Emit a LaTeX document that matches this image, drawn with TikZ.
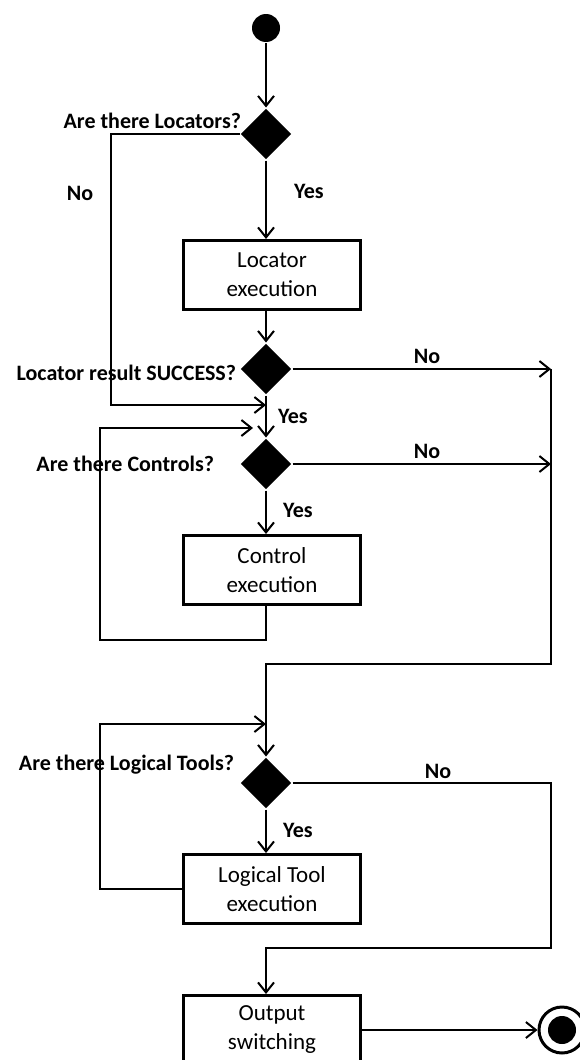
\documentclass[tikz,border=0pt]{standalone}
\usepackage{fontspec}
\setmainfont{Carlito}
\usetikzlibrary{shapes.geometric,arrows.meta}
\begin{document}
\begin{tikzpicture}[x=1pt,y=-1pt,
  line width=2pt,
  arr/.style={-{Straight Barb[length=10pt,width=16pt]}},
  dec/.style={diamond,fill=black,inner sep=0pt,minimum width=51pt,minimum height=51pt},
  act/.style={draw,line width=3pt,minimum width=177pt,minimum height=69pt,inner sep=0pt,align=center,font=\fontsize{23}{29}\selectfont},
  lbl/.style={font=\fontsize{22}{24}\selectfont\bfseries,inner sep=0pt}
]
\clip (0,0) rectangle (580,1060);
% nodes
\node[circle,fill=black,inner sep=0pt,minimum size=28pt] (start) at (266,28) {};
\node[dec] (d1) at (266,134) {};
\node[act] (b1) at (272,275) {Locator\\execution};
\node[dec] (d2) at (266,369) {};
\node[dec] (d3) at (266,464) {};
\node[act] (b2) at (272,570) {Control\\execution};
\node[dec] (d4) at (266,783) {};
\node[act] (b3) at (272,889) {Logical Tool\\execution};
\node[act] (b4) at (272,1030) {Output\\switching};
\node[circle,draw=black,line width=3pt,inner sep=0pt,minimum size=46pt] (end) at (562,1030) {};
\node[circle,fill=black,inner sep=0pt,minimum size=28pt] (endin) at (end) {};
% labels
\node[lbl,anchor=base east] (q1) at (242,128) {Are there Locators?};
\node[lbl,anchor=base east] (q2) at (237,380) {Locator result SUCCESS?};
\node[lbl,anchor=base east] (q3) at (215,471) {Are there Controls?};
\node[lbl,anchor=base east] (q4) at (235,770) {Are there Logical Tools?};
\node[lbl,anchor=base] (y1) at (309,198) {Yes};
\node[lbl,anchor=base] (y2) at (293,423) {Yes};
\node[lbl,anchor=base] (y3) at (298,517) {Yes};
\node[lbl,anchor=base] (y4) at (298,837) {Yes};
\node[lbl,anchor=base] (n0) at (80,200) {No};
\node[lbl,anchor=base] (n1) at (427,363) {No};
\node[lbl,anchor=base] (n2) at (427,458) {No};
\node[lbl,anchor=base] (n3) at (438,778) {No};
% bend points
\coordinate (a1) at (111,134);
\coordinate (a2) at (111,405);
\coordinate (a3) at (266,405);
\coordinate (c1) at (266,640);
\coordinate (c2) at (100,640);
\coordinate (c3) at (100,428);
\coordinate (c4) at (253,428);
\coordinate (r1) at (551,369);
\coordinate (r2) at (551,464);
\coordinate (r3) at (551,664);
\coordinate (r4) at (266,664);
\coordinate (g1) at (100,889);
\coordinate (g2) at (100,724);
\coordinate (g3) at (266,724);
\coordinate (r5) at (551,783);
\coordinate (r6) at (551,948);
\coordinate (r7) at (266,948);
% connectors
\draw[arr] (start) -- (d1);
\draw[arr] (d1) -- (d1.south |- b1.north);
\draw[arr] (b1.south -| d1.center) -- (d2);
\draw[arr] (d1.west) -- (a1) -- (a2) -- (a3);
\draw[arr] (d2) -- (d3);
\draw[arr] (d2.east) -- (r1);
\draw[arr] (d3.east) -- (r2);
\draw[arr] (d3) -- (d3.south |- b2.north);
\draw[arr] (b2.south -| d3.center) -- (c1) -- (c2) -- (c3) -- (c4);
\draw[arr] (r1) -- (r3) -- (r4) -- (d4);
\draw[arr] (b3.west) -- (g1) -- (g2) -- (g3);
\draw[arr] (d4) -- (d4.south |- b3.north);
\draw[arr] (d4.east) -- (r5) -- (r6) -- (r7) -- (r7 |- b4.north);
\draw[arr] (b4.east) -- (end.west);
\end{tikzpicture}
\end{document}
